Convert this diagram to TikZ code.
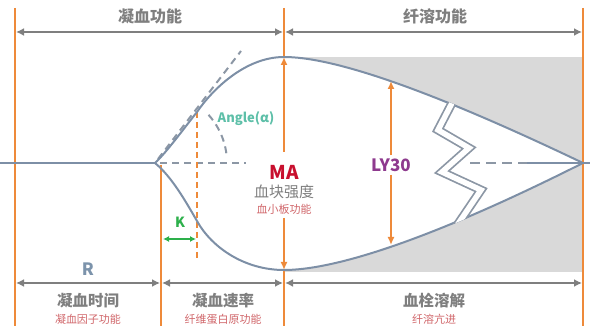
\documentclass[tikz,border=0pt]{standalone}
\usepackage{fontspec}
\setmainfont{Noto Sans CJK SC}
\usetikzlibrary{arrows.meta,calc}
\definecolor{orangeC}{HTML}{EE8A3A}
\definecolor{grayA}{HTML}{7F7F7F}
\definecolor{curveC}{HTML}{7D8FA6}
\definecolor{dashC}{HTML}{8C97A5}
\definecolor{fillC}{HTML}{D9D9D9}
\definecolor{redMA}{HTML}{C8102E}
\definecolor{pinkT}{HTML}{D0666A}
\definecolor{purpleT}{HTML}{8E3A8E}
\definecolor{tealT}{HTML}{5DBFA8}
\definecolor{greenK}{HTML}{2DB04B}
\definecolor{blueR}{HTML}{7C93AB}
\begin{document}
\begin{tikzpicture}[x=1pt,y=-1pt,
  orangeline/.style={draw=orangeC,line width=1.8pt},
  dimarrow/.style={draw=grayA,line width=2.4pt,{Latex[length=8pt,width=8pt]}-{Latex[length=8pt,width=8pt]}},
  curve/.style={draw=curveC,line width=2pt},
  dashline/.style={draw=dashC,line width=2pt,dash pattern=on 7pt off 5pt},
  titleT/.style={text=grayA,font=\fontsize{16}{16}\selectfont\bfseries},
  labT/.style={text=grayA,font=\fontsize{15.5}{15.5}\selectfont\bfseries},
  subT/.style={text=pinkT,font=\fontsize{11}{11}\selectfont},
  oarrow/.style={draw=orangeC,line width=1.8pt,-{Latex[length=8pt,width=7pt]}}
]
\useasboundingbox (0,0) rectangle (590,326);

% coordinates
\coordinate (L0) at (0,163);
\coordinate (s) at (155,163);
\coordinate (infl) at (197,112);
\coordinate (peak) at (284,57);
\coordinate (bot) at (284,270);
\coordinate (tip) at (583,163);
\coordinate (kpt) at (197,221);

% gray region and white clot
\fill[fillC] (284,57) rectangle (582,272);
\fill[white] (peak) .. controls (330,57) and (420,85) .. (tip)
  .. controls (420,245) and (330,270) .. (bot) -- cycle;

% orange verticals
\coordinate (o1a) at (15,8); \coordinate (o1b) at (15,326);
\coordinate (o2a) at (161,165); \coordinate (o2b) at (161,326);
\coordinate (o3a) at (284,8); \coordinate (o3b) at (284,326);
\coordinate (o4a) at (583,8); \coordinate (o4b) at (583,326);
\draw[orangeline] (o1a) -- (o1b);
\draw[orangeline] (o2a) -- (o2b);
\draw[orangeline] (o3a) -- (peak);
\draw[orangeline] (bot) -- (o3b);
\draw[orangeline] (o4a) -- (o4b);

% dashed construction lines
\coordinate (tg1) at (158,159);
\coordinate (tg2) at (241,51);
\draw[dashline] (tg1) -- (tg2);
\coordinate (h1) at (160,163); \coordinate (h2) at (246,163);
\draw[dashline] (h1) -- (h2);
\draw[dashline] plot[domain=42:4,samples=25] ({155+72*cos(\x)},{163-72*sin(\x)});
\coordinate (vd) at (197,258);
\draw[draw=orangeC,line width=1.8pt,dash pattern=on 6pt off 4pt] (infl) -- (vd);

% baseline and curves
\draw[curve] (L0) -- (s);
\draw[curve] (s) .. controls (166,153) and (185,127) .. (infl)
  .. controls (212,90) and (245,57) .. (peak)
  .. controls (330,57) and (420,85) .. (tip);
\draw[curve] (s) .. controls (172,177) and (186,202) .. (kpt)
  .. controls (212,248) and (245,270) .. (bot)
  .. controls (330,270) and (420,245) .. (tip);

% zigzag break (clipped to the clot)
\coordinate (z1) at (452,103);
\coordinate (z2) at (438,130);
\coordinate (z3) at (469,148);
\coordinate (z4) at (442,172);
\coordinate (z5) at (481,190);
\coordinate (z6) at (458,224);
\begin{scope}
\clip (peak) .. controls (330,55.5) and (420,83.5) .. (tip)
  .. controls (420,246.5) and (330,271.5) .. (bot) -- cycle;
\draw[draw=dashC,line width=9pt,line join=miter] ($(z1)!-0.3!(z2)$) -- (z2) -- (z3) -- (z4) -- (z5) -- ($(z6)!-0.3!(z5)$);
\draw[draw=white,line width=5.5pt,line join=miter] ($(z1)!-0.3!(z2)$) -- (z2) -- (z3) -- (z4) -- (z5) -- ($(z6)!-0.3!(z5)$);
\end{scope}

% right dashed center line
\coordinate (d1) at (470,163); \coordinate (d2) at (527,163); \coordinate (d3) at (590,163);
\draw[draw=dashC,line width=2pt,dash pattern=on 10pt off 6pt] (d1) -- (d2);
\draw[curve] (d2) -- (d3);

% top dimension arrows
\coordinate (ta1) at (16,32); \coordinate (ta2) at (283,32);
\coordinate (ta3) at (285,32); \coordinate (ta4) at (582,32);
\draw[dimarrow] (ta1) -- (ta2);
\draw[dimarrow] (ta3) -- (ta4);
\node[titleT] (top1) at (150,16) {凝血功能};
\node[titleT] (top2) at (435,16) {纤溶功能};

% bottom dimension arrows
\coordinate (ba1) at (16,283); \coordinate (ba2) at (160,283);
\coordinate (ba3) at (162,283); \coordinate (ba4) at (283,283);
\coordinate (ba5) at (285,283); \coordinate (ba6) at (582,283);
\draw[dimarrow] (ba1) -- (ba2);
\draw[dimarrow] (ba3) -- (ba4);
\draw[dimarrow] (ba5) -- (ba6);

\node[text=blueR,font=\fontsize{17}{17}\selectfont\bfseries] (R) at (88,269) {R};
\node[labT] (b1) at (88,301) {凝血时间};
\node[subT] (b1s) at (88,319) {凝血因子功能};
\node[labT] (b2) at (223,301) {凝血速率};
\node[subT] (b2s) at (223,319) {纤维蛋白原功能};
\node[labT] (b3) at (434,301) {血栓溶解};
\node[subT] (b3s) at (434,319) {纤溶亢进};

% MA
\node[text=redMA,font=\fontsize{19}{19}\selectfont\bfseries] (MA) at (284,172) {MA};
\node[labT,font=\fontsize{15}{15}\selectfont] (MAt) at (284,192) {血块强度};
\node[subT] (MAs) at (284,209) {血小板功能};
\coordinate (ma1) at (284,152); \coordinate (ma2) at (284,218);
\draw[oarrow] (ma1) -- (peak);
\draw[oarrow] (ma2) -- (bot);

% LY30
\node[text=purpleT,font=\fontsize{17}{17}\selectfont\bfseries] (LY) at (391,165) {LY30};
\coordinate (ly1) at (391,81); \coordinate (ly2) at (391,245);
\draw[oarrow] (LY.north) -- (ly1);
\draw[oarrow] (LY.south) -- (ly2);

% Angle and K
\node[text=tealT,font=\fontsize{13}{13}\selectfont\bfseries] (ang) at (246,119) {Angle(α)};
\node[text=greenK,font=\fontsize{14}{14}\selectfont\bfseries] (K) at (180,222) {K};
\coordinate (k1) at (163,239); \coordinate (k2) at (196,239);
\draw[draw=greenK,line width=1.8pt,{Latex[length=6pt,width=6pt]}-{Latex[length=6pt,width=6pt]}] (k1) -- (k2);
\end{tikzpicture}
\end{document}
